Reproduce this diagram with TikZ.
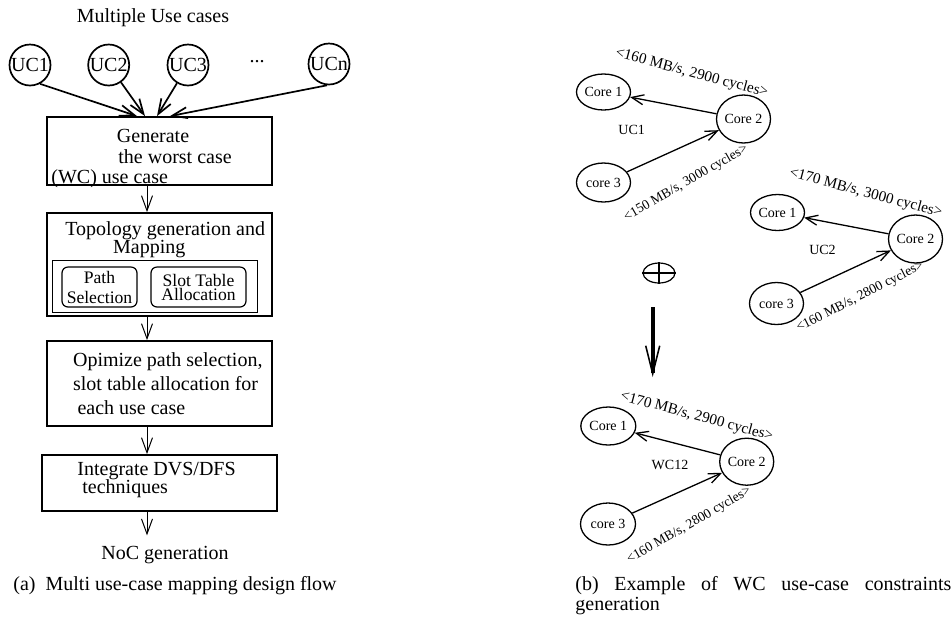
\documentclass[tikz,border=0pt]{standalone}
\usepackage{fontspec}
\setmainfont{Liberation Serif}
\usetikzlibrary{arrows.meta,shapes.geometric}

\tikzset{
  flowbox/.style={draw, line width=0.9pt, minimum width=112.5pt, inner sep=0pt},
  usecase/.style={draw, circle, line width=0.85pt, minimum size=20.5pt, inner sep=0pt},
  flowtext/.style={anchor=north west, inner sep=0pt, align=left},
  flowarrow/.style={-{Straight Barb[length=7.5pt,width=5.5pt]}, line width=0.5pt},
  inarrow/.style={-{Straight Barb[length=7.5pt,width=5.5pt]}, line width=0.85pt},
  subbox/.style={draw, rounded corners=3pt, line width=0.6pt, minimum height=20pt, inner sep=0pt, align=center, font=\fontsize{8.8}{10}\selectfont},
  core/.style={draw, ellipse, line width=0.65pt, inner sep=0pt, minimum width=27pt, minimum height=18pt, font=\fontsize{7}{8}\selectfont},
  corearrow/.style={-{Straight Barb[length=6pt,width=5pt]}, line width=0.65pt},
  toplabel/.style={inner sep=0pt, rotate=-15, font=\fontsize{7.6}{9}\selectfont},
  botlabel/.style={inner sep=0pt, rotate=30, font=\fontsize{6.8}{8}\selectfont},
  grouplabel/.style={inner sep=0pt, font=\fontsize{7}{8}\selectfont},
}

\begin{document}
\begin{tikzpicture}[x=0.5pt,y=0.5pt,yscale=-1,xscale=1]
    \useasboundingbox (0,0) rectangle (952,623);
    % (a) use cases
    \node[anchor=base] (title) at (153,22.7) {Multiple Use cases};
    \node[usecase] (uc1) at (30,65) {UC1};
    \node[usecase] (uc2) at (108.7,65) {UC2};
    \node[usecase] (uc3) at (188,65) {UC3};
    \node[anchor=base] (dots) at (257,62) {...};
    \node[usecase] (ucn) at (329,64) {UCn};
    % (a) design flow
    \node[flowbox, minimum height=34pt] (gen) at (159.5,151) {};
    \node[flowtext, font=\fontsize{10}{10.25}\selectfont] (gentext) at (51,129) {\hspace*{32.8pt}Generate\\\hspace*{33.5pt}the worst case\\(WC) use case};
    \node[flowbox, minimum height=51.5pt] (topo) at (159.5,264.5) {};
    \node[flowtext, font=\fontsize{10}{9.15}\selectfont] (topotext) at (65,221.3) {Topology generation and\\\hspace*{23.85pt}Mapping};
    \node[draw, line width=0.5pt, minimum width=102.5pt, minimum height=26pt, inner sep=0pt] (alloc) at (154.5,286) {};
    \node[subbox, minimum width=37.5pt] (path) at (99.5,287) {Path\\Selection};
    \node[subbox, minimum width=47.5pt, font=\fontsize{8.8}{7}\selectfont] (slot) at (198.5,287) {Slot Table\\Allocation};
    \node[flowbox, minimum height=42.5pt] (opt) at (159.5,383.5) {};
    \node[flowtext, font=\fontsize{10}{12}\selectfont] (opttext) at (72.7,352.7) {Opimize path selection,\\slot table allocation for\\\hspace*{2.2pt}each use case};
    \node[flowbox, minimum width=117.5pt, minimum height=28pt] (dvs) at (159.5,483) {};
    \node[flowtext, font=\fontsize{10}{9.15}\selectfont] (dvstext) at (77,462) {Integrate DVS/DFS\\\hspace*{2.5pt}techniques};
    \node[anchor=base, inner sep=5pt] (noc) at (165,559) {NoC generation};
    \draw[inarrow] (uc1.-62) -- ([xshift=-11.25pt]gen.north);
    \draw[inarrow] (uc2) -- ([xshift=-7.25pt]gen.north);
    \draw[inarrow] (uc3) -- ([xshift=-1.25pt]gen.north);
    \draw[inarrow] (ucn.-95) -- ([xshift=5.25pt]gen.north);
    \draw[flowarrow] ([xshift=-6.25pt]gen.south) -- ([xshift=-6.25pt]topo.north);
    \draw[flowarrow] ([xshift=-6.25pt]topo.south) -- ([xshift=-6.25pt]opt.north);
    \draw[flowarrow] ([xshift=-6.25pt]opt.south) -- ([xshift=-6.25pt]dvs.north);
    \draw[flowarrow] ([xshift=-6.25pt]dvs.south) -- ([xshift=-6.25pt]dvs.south |- noc.north);
    \node[anchor=base west, inner sep=0pt] (capa) at (13,590) {(a)\hspace{5pt}Multi use-case mapping design flow};
    % (b) UC1
    \node[core] (ucaone) at (603.5,92) {Core 1};
    \node[core, minimum height=24pt] (ucatwo) at (743.5,119) {Core 2};
    \node[core, minimum height=19.5pt] (ucathree) at (603.5,182.5) {core 3};
    \draw[corearrow] (ucatwo) -- (ucaone);
    \draw[corearrow] (ucathree) -- (ucatwo);
    \node[toplabel] (ucatop) at (691.7,73.3) {<160 MB/s, 2900 cycles>};
    \node[botlabel] (ucabot) at (686,183) {<150 MB/s, 3000 cycles>};
    \node[grouplabel] (ucaname) at (631.7,130) {UC1};
    % (b) UC2
    \node[core] (ucbone) at (777.5,212.5) {Core 1};
    \node[core, minimum height=24pt] (ucbtwo) at (915.5,239) {Core 2};
    \node[core, minimum height=21pt] (ucbthree) at (776.5,303.5) {core 3};
    \draw[corearrow] (ucbtwo) -- (ucbone);
    \draw[corearrow] (ucbthree) -- (ucbtwo);
    \node[toplabel] (ucbtop) at (865.8,193.3) {<170 MB/s, 3000 cycles>};
    \node[botlabel, rotate=-3] (ucbbot) at (860,297) {<160 MB/s, 2800 cycles>};
    \node[grouplabel] (ucbname) at (822.5,250) {UC2};
    % (b) merge
    \node[draw, ellipse, line width=0.6pt, minimum width=16pt, minimum height=10pt, inner sep=0pt] (oplus) at (659,273) {};
    \draw[line width=0.6pt] (oplus.north) -- (oplus.south) (oplus.west) -- (oplus.east);
    \coordinate (mergetop) at (652.7,307);
    \coordinate (mergebot) at (652.7,377);
    \draw[line width=2pt, -{Straight Barb[length=14pt,width=7pt,line width=0.8pt]}] (mergetop) -- (mergebot);
    % (b) WC12
    \node[core, minimum width=27.5pt, minimum height=19pt] (wcone) at (608.3,426) {Core 1};
    \node[core, minimum height=23.5pt] (wctwo) at (746.7,461.7) {Core 2};
    \node[core, minimum width=27.5pt, minimum height=21pt] (wcthree) at (608,524) {core 3};
    \draw[corearrow] (wctwo) -- (wcone);
    \draw[corearrow] (wcthree) -- (wctwo);
    \node[toplabel] (wctop) at (696.7,416.7) {<170 MB/s, 2900 cycles>};
    \node[botlabel] (wcbot) at (689,525.5) {<160 MB/s, 2800 cycles>};
    \node[grouplabel] (wcname) at (670,465) {WC12};
    \node[anchor=north west, inner sep=0pt, text width=188pt, align=justify, font=\fontsize{10}{10}\selectfont] (capb) at (575,576) {(b) Example of WC use-case constraints\linebreak generation};
\end{tikzpicture}
\end{document}
